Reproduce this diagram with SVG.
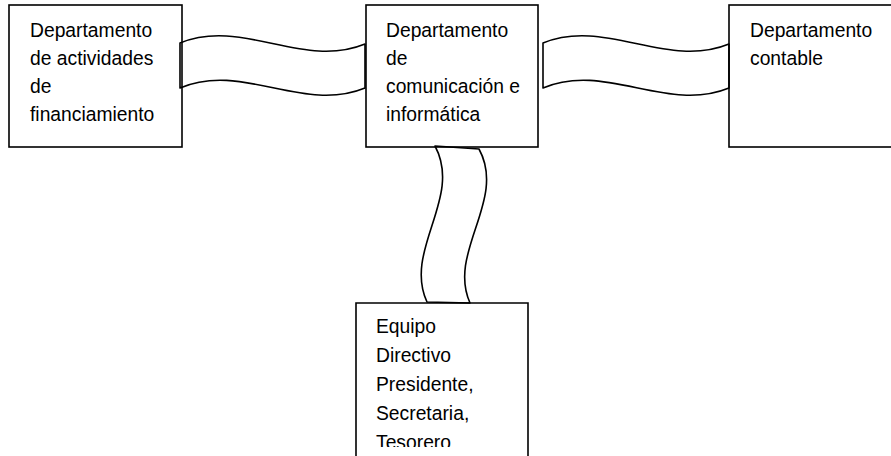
<svg xmlns="http://www.w3.org/2000/svg" width="891" height="456" viewBox="0 0 891 456">
<style>
.box{fill:none;stroke:#000;stroke-width:1.6}
.band{fill:none;stroke:#000;stroke-width:1.6;stroke-linejoin:round}
.t{font-family:"Liberation Sans",Arial,sans-serif;font-size:19.3px;fill:#000}
</style>
<defs>
<clipPath id="clipBottom"><rect x="350" y="300" width="190" height="147"/></clipPath>
</defs>
<rect width="891" height="456" fill="#fff"/>
<g id="connectors">
<path class="band" d="M180,43 C242,17.5 303,69.5 365,44 L365,88 C303,113.5 242,61.5 180,88 Z"/>
<path class="band" d="M543,43 C605,17.5 667,69.5 729,44 L729,88 C667,113.5 605,61.5 543,88 Z"/>
<path class="band" d="M435,146 C463,198 403,250 427,302 L470,303 C447,252 507,200 479,149 Z"/>
</g>
<g id="node-financiamiento">
<rect class="box" x="9" y="5" width="173" height="142"/>
<text class="t" x="30" y="37">Departamento</text>
<text class="t" x="30" y="65">de actividades</text>
<text class="t" x="30" y="93">de</text>
<text class="t" x="30" y="121">financiamiento</text>
</g>
<g id="node-comunicacion">
<rect class="box" x="366" y="5" width="172" height="142"/>
<text class="t" x="386" y="37">Departamento</text>
<text class="t" x="386" y="65">de</text>
<text class="t" x="386" y="93">comunicación e</text>
<text class="t" x="386" y="121">informática</text>
</g>
<g id="node-contable">
<rect class="box" x="729" y="5" width="170" height="142"/>
<text class="t" x="750" y="37">Departamento</text>
<text class="t" x="750" y="65">contable</text>
</g>
<g id="node-equipo">
<path class="box" d="M356,460 L356,303 L528,303 L528,460"/>
<g clip-path="url(#clipBottom)">
<text class="t" x="376" y="333">Equipo</text>
<text class="t" x="376" y="362">Directivo</text>
<text class="t" x="376" y="391">Presidente,</text>
<text class="t" x="376" y="420">Secretaria,</text>
<text class="t" x="376" y="449">Tesorero</text>
</g>
</g>
</svg>
